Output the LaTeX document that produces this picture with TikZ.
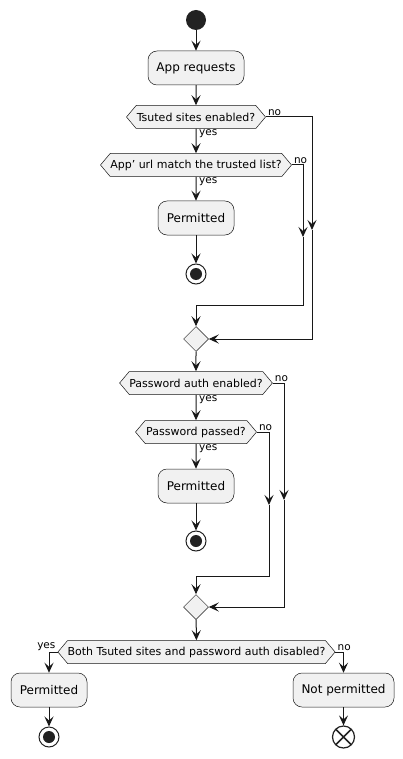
\documentclass[tikz,border=0pt]{standalone}
\usepackage{fontspec}
\setmainfont{DejaVu Sans}
\usetikzlibrary{shapes.geometric,shapes.symbols,arrows.meta}
\definecolor{bg}{HTML}{F1F1F1}
\definecolor{ln}{HTML}{181818}
\definecolor{dot}{HTML}{222222}
\begin{document}
\begin{tikzpicture}[x=1pt,y=-1pt,
  act/.style={draw=ln, fill=bg, rounded corners=9pt, minimum height=34pt, inner sep=0pt, font=\fontsize{12}{14}\selectfont, line width=0.5pt},
  dec/.style={signal, signal to=west and east, signal pointer angle=100, draw=ln, fill=bg, minimum height=23pt, inner sep=0pt, font=\fontsize{11}{13}\selectfont, line width=0.5pt},
  merge/.style={diamond, draw=ln, fill=bg, minimum size=25pt, inner sep=0pt, line width=0.5pt},
  startdot/.style={circle, fill=dot, minimum size=20pt, inner sep=0pt},
  stopdot/.style={circle, draw=dot, fill=white, line width=1pt, minimum size=20pt, inner sep=0pt, path picture={\fill[dot] (path picture bounding box.center) circle[radius=6pt];}},
  enddot/.style={circle, draw=dot, fill=white, line width=1.2pt, minimum size=22pt, inner sep=0pt, path picture={\draw[dot, line width=1.5pt] (path picture bounding box.center) +(-7.5pt,-7.5pt) -- +(7.5pt,7.5pt) +(-7.5pt,7.5pt) -- +(7.5pt,-7.5pt);}},
  lab/.style={font=\fontsize{10.5}{12}\selectfont, inner sep=1pt},
  arr/.style={draw=ln, line width=1pt, -{Stealth[length=10pt,width=9pt,inset=4pt]}},
  ln/.style={draw=ln, line width=1pt}]
\useasboundingbox (0,0) rectangle (403,759);

\node[startdot] (start) at (196,20) {};
\node[act, minimum width=96pt] (app) at (196,68) {App requests};
\node[dec, minimum width=139pt] (d1) at (196,117) {Tsuted sites enabled?};
\node[dec, minimum width=191pt] (d2) at (196,165) {App\char"0027{} url match the trusted list?};
\node[act, minimum width=76pt] (p1) at (196,218) {Permitted};
\node[stopdot] (s1) at (196,274) {};
\node[merge] (m1) at (196,339) {};
\coordinate (c1) at (312,230);
\coordinate (c2) at (303,237);
\coordinate (k2) at (303,305);

\node[dec, minimum width=152pt] (d3) at (196,383) {Password auth enabled?};
\node[dec, minimum width=121pt] (d4) at (196,432) {Password passed?};
\node[act, minimum width=76pt] (p2) at (196,486) {Permitted};
\node[stopdot] (s2) at (196,541) {};
\node[merge] (m2) at (196,607) {};
\coordinate (c3) at (284,500);
\coordinate (c4) at (269,505);
\coordinate (k4) at (269,576);

\node[dec, minimum width=273pt] (d5) at (196.5,652) {Both Tsuted sites and password auth disabled?};
\node[act, minimum width=76pt] (p3) at (49,690) {Permitted};
\node[stopdot] (s3) at (49,737) {};
\node[act, minimum width=101pt] (np) at (343.5,690) {Not permitted};
\node[enddot] (e) at (343.5,737) {};

% top part
\draw[arr] (start) -- (app);
\draw[arr] (app) -- (d1);
\draw[arr] (d1) -- (d2);
\draw[arr] (d2) -- (p1);
\draw[arr] (p1) -- (s1);
\draw[arr] (d1.east) -| (c1);
\draw[arr] (c1) |- (m1.east);
\draw[arr] (d2.east) -| (c2);
\draw[arr] (c2) -- (k2) -| (m1.north);
\node[lab, anchor=south west] at ([xshift=1pt]d1.east) {no};
\node[lab, anchor=north west] at ([xshift=2pt]d1.south) {yes};
\node[lab, anchor=south west] at ([xshift=1pt]d2.east) {no};
\node[lab, anchor=north west] at ([xshift=2pt]d2.south) {yes};

% middle part
\draw[arr] (m1) -- (d3);
\draw[arr] (d3) -- (d4);
\draw[arr] (d4) -- (p2);
\draw[arr] (p2) -- (s2);
\draw[arr] (d3.east) -| (c3);
\draw[arr] (c3) |- (m2.east);
\draw[arr] (d4.east) -| (c4);
\draw[arr] (c4) -- (k4) -| (m2.north);
\node[lab, anchor=south west] at ([xshift=1pt]d3.east) {no};
\node[lab, anchor=north west] at ([xshift=2pt]d3.south) {yes};
\node[lab, anchor=south west] at ([xshift=1pt]d4.east) {no};
\node[lab, anchor=north west] at ([xshift=2pt]d4.south) {yes};

% bottom part
\draw[arr] (m2) -- (d5);
\draw[arr] (d5.west) -| (p3.north);
\draw[arr] (d5.east) -| (np.north);
\draw[arr] (p3) -- (s3);
\draw[arr] (np) -- (e);
\node[lab, anchor=south east] at ([xshift=-1pt]d5.west) {yes};
\node[lab, anchor=south west] at ([xshift=1pt]d5.east) {no};
\end{tikzpicture}
\end{document}
